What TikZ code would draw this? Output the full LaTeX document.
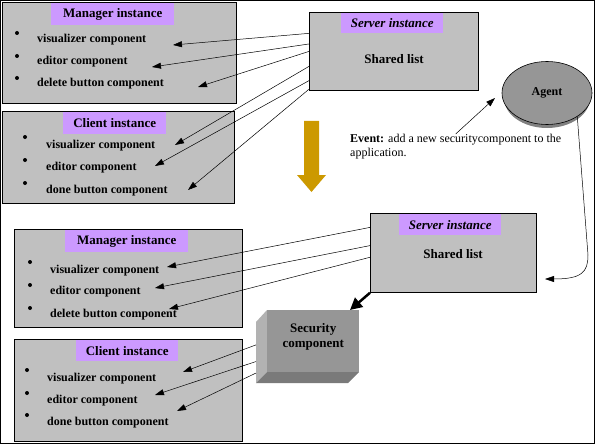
\documentclass[tikz,border=0pt]{standalone}
\usepackage{fontspec}
\setmainfont{Liberation Serif}
\usetikzlibrary{arrows.meta,shapes.geometric}

\definecolor{boxgray}{HTML}{C0C0C0}
\definecolor{tagpurple}{HTML}{CC99FF}
\definecolor{agentgray}{HTML}{969696}
\definecolor{shadowgray}{HTML}{808080}
\definecolor{secfront}{HTML}{969696}
\definecolor{secleft}{HTML}{B2B2B2}
\definecolor{secbottom}{HTML}{7A7A7A}
\definecolor{gold}{HTML}{CC9900}

\tikzset{
  panel/.style={draw, line width=0.8pt, fill=boxgray, anchor=north west, inner sep=0pt},
  tag/.style={fill=tagpurple, anchor=north west, inner sep=0pt, font=\fontsize{13}{15}\selectfont\bfseries},
  item/.style={anchor=base west, inner sep=0pt, font=\fontsize{12}{14}\selectfont\bfseries},
  dot/.style={circle, fill=black, inner sep=0pt, minimum size=4pt},
  link/.style={line width=0.5pt, -{Triangle[length=9pt,width=6pt]}},
}

\begin{document}
\begin{tikzpicture}[x=1pt, y=-1pt]
  \useasboundingbox (0,0) rectangle (595,444);
  \draw[line width=0.8pt] (0.5,0.5) rectangle (594.5,443.5);

  % upper half: before the event
  \node[panel, minimum width=234pt, minimum height=101pt] (mgrA) at (2,2) {};
  \node[tag, minimum width=123pt, minimum height=22pt] (mgrAt) at (51,3) {Manager instance};
  \node[dot] (mgrAb1) at (17,33) {};
  \node[dot] (mgrAb2) at (17,56) {};
  \node[dot] (mgrAb3) at (17,78) {};
  \node[item] (mgrAv) at (37,43) {visualizer component};
  \node[item] (mgrAe) at (37,65) {editor component};
  \node[item] (mgrAd) at (37,87) {delete button component};

  \node[panel, minimum width=232pt, minimum height=92pt] (cliA) at (2,111) {};
  \node[tag, minimum width=103pt, minimum height=22pt] (cliAt) at (63,112) {Client instance};
  \node[dot] (cliAb1) at (25,137) {};
  \node[dot] (cliAb2) at (25,160) {};
  \node[dot] (cliAb3) at (25,183) {};
  \node[item] (cliAv) at (46,148) {visualizer component};
  \node[item] (cliAe) at (46,170) {editor component};
  \node[item] (cliAd) at (46,193) {done button component};

  \node[panel, minimum width=169pt, minimum height=78pt] (srvA) at (309,12) {};
  \node[tag, minimum width=102pt, minimum height=20pt, font=\fontsize{13}{15}\selectfont\bfseries\itshape] (srvAt) at (341,13) {Server instance};
  \node[item, anchor=base, font=\fontsize{13}{15}\selectfont\bfseries] (srvAs) at (394,64) {Shared list};

  \coordinate (mA1) at (173,45);
  \coordinate (mA2) at (152,67);
  \coordinate (mA3) at (198,87);
  \coordinate (cA1) at (175,145);
  \coordinate (cA2) at (155,166);
  \coordinate (cA3) at (188,190);
  \draw[link] (srvA.168.6) -- (mA1);
  \draw[link] (srvA.175.9) -- (mA2);
  \draw[link] (srvA.180) -- (mA3);
  \draw[link] (srvA.190.7) -- (cA1);
  \draw[link] (srvA.199.5) -- (cA2);
  \draw[link] (srvA.204.2) -- (cA3);

  % the event
  \fill[gold] (304,121) -- (319,121) -- (319,175) -- (326,175) -- (311.5,192) -- (297,175) -- (304,175) -- cycle;
  \node[ellipse, fill=shadowgray, minimum width=86pt, minimum height=60pt] (agentS) at (547,98) {};
  \node[ellipse, draw, line width=0.6pt, fill=agentgray, minimum width=90pt, minimum height=63pt, font=\fontsize{12}{14}\selectfont\bfseries] (agent) at (547,93) {Agent};
  \node[anchor=north west, align=left, inner sep=0pt, font=\fontsize{12}{14}\selectfont] (event) at (350,134) {\textbf{Event:} add a new securitycomponent to the\\application.};
  \coordinate (agTip) at (495,98);
  \draw[link] (event.north) -- (agTip);

  % lower half: after the event
  \node[panel, minimum width=228pt, minimum height=98pt] (mgrB) at (14,229) {};
  \node[tag, minimum width=123pt, minimum height=22pt] (mgrBt) at (65,230) {Manager instance};
  \node[dot] (mgrBb1) at (30,262) {};
  \node[dot] (mgrBb2) at (30,285) {};
  \node[dot] (mgrBb3) at (30,308) {};
  \node[item] (mgrBv) at (50,273) {visualizer component};
  \node[item] (mgrBe) at (50,294) {editor component};
  \node[item] (mgrBd) at (50,317) {delete button component};

  \node[panel, minimum width=228pt, minimum height=102pt] (cliB) at (14,339) {};
  \node[tag, minimum width=102pt, minimum height=21pt] (cliBt) at (76,340) {Client instance};
  \node[dot] (cliBb1) at (27,370) {};
  \node[dot] (cliBb2) at (27,393) {};
  \node[dot] (cliBb3) at (27,415) {};
  \node[item] (cliBv) at (47,381) {visualizer component};
  \node[item] (cliBe) at (47,403) {editor component};
  \node[item] (cliBd) at (47,425) {done button component};

  \node[panel, minimum width=166pt, minimum height=79pt] (srvB) at (370,213) {};
  \node[tag, minimum width=102pt, minimum height=21pt, font=\fontsize{13}{15}\selectfont\bfseries\itshape] (srvBt) at (399,214) {Server instance};
  \node[item, anchor=base, font=\fontsize{13}{15}\selectfont\bfseries] (srvBs) at (453,258) {Shared list};

  \coordinate (agBend) at (588,255);
  \coordinate (srvTip) at (545,279);
  \draw[link] (agent.322) -- (agBend) .. controls (588,272) and (582,279) .. (srvTip);

  % security component, drawn as a block
  \node[anchor=north west, inner sep=0pt, minimum width=103pt, minimum height=73pt] (secBox) at (256,310) {};
  \fill[secleft] (267,310) -- (256,322) -- (256,383) -- (267,372) -- cycle;
  \fill[secbottom] (256,383) -- (267,372) -- (359,372) -- (348,383) -- cycle;
  \node[fill=secfront, anchor=north west, inner sep=0pt, minimum width=92pt, minimum height=62pt, align=center, font=\fontsize{13}{15}\selectfont\bfseries] (sec) at (267,310) {Security\\component\\[-4pt]};

  \coordinate (secTip) at (350,310);
  \draw[line width=2.5pt, -{Triangle[length=12pt,width=12pt]}] (srvB.south west) -- (secTip);

  \coordinate (mB1) at (167,267);
  \coordinate (mB2) at (155,288);
  \coordinate (mB3) at (169,309);
  \draw[link] (srvB.163.6) -- (mB1);
  \draw[link] (srvB.175.5) -- (mB2);
  \draw[link] (srvB.183.1) -- (mB3);

  \coordinate (cB1) at (183,372);
  \coordinate (cB2) at (155,395);
  \coordinate (cB3) at (177,411);
  \draw[link] (secBox.178.3) -- (cB1);
  \draw[link] (secBox.196.7) -- (cB2);
  \draw[link] (secBox.207.2) -- (cB3);
\end{tikzpicture}
\end{document}
